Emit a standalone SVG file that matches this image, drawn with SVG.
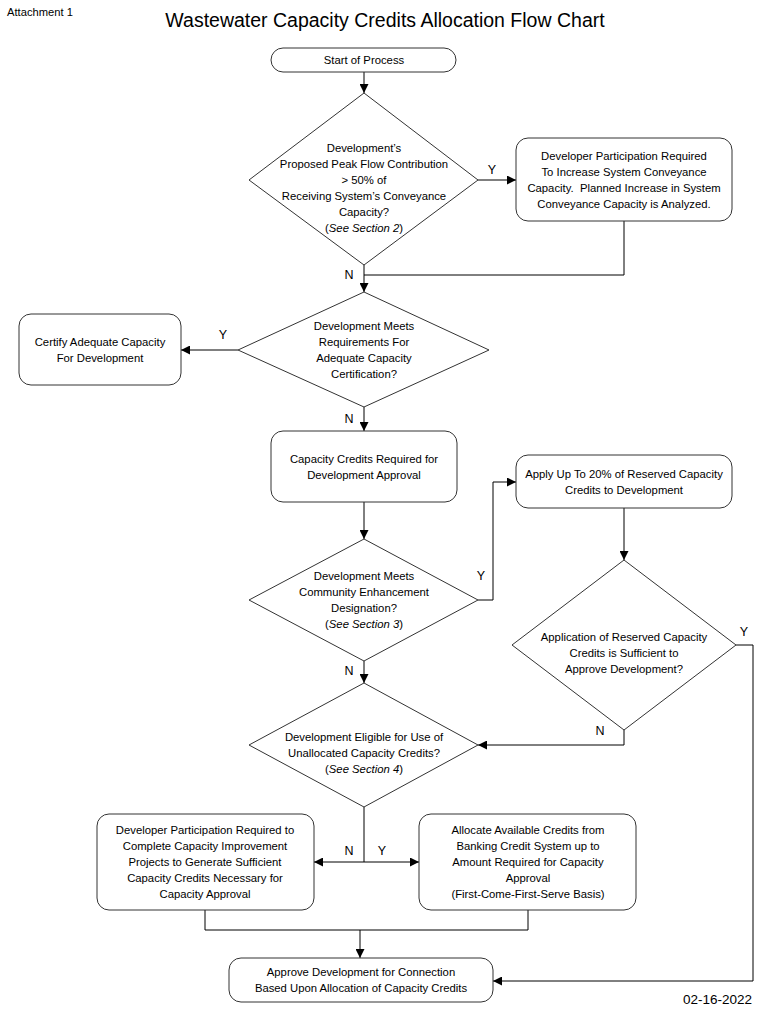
<svg xmlns="http://www.w3.org/2000/svg" width="760" height="1018" viewBox="0 0 760 1018">
<defs>
<style>
.n{fill:#fff;stroke:#333;stroke-width:1}
.t{font-family:"Liberation Sans",Arial,sans-serif;font-size:11.3px;fill:#000;text-anchor:middle}
.l{font-family:"Liberation Sans",Arial,sans-serif;font-size:12.5px;fill:#000;text-anchor:middle}
.c{fill:none;stroke:#000;stroke-width:1}
</style>
<marker id="a" viewBox="0 0 10 10" refX="10" refY="5" markerWidth="9" markerHeight="9" markerUnits="userSpaceOnUse" orient="auto"><path d="M0,0L10,5L0,10z" fill="#000"/></marker>
</defs>
<rect width="760" height="1018" fill="#fff"/>
<text x="7" y="16" style="font-family:'Liberation Sans',Arial,sans-serif;font-size:11.2px">Attachment 1</text>
<text x="385" y="27" style="font-family:'Liberation Sans',Arial,sans-serif;font-size:19.5px;text-anchor:middle">Wastewater Capacity Credits Allocation Flow Chart</text>
<text x="752" y="1004" style="font-family:'Liberation Sans',Arial,sans-serif;font-size:13.5px;text-anchor:end">02-16-2022</text>

<g id="connectors">
<path class="c" d="M364,72V93" marker-end="url(#a)"/>
<path class="c" d="M478,180H516" marker-end="url(#a)"/>
<path class="c" d="M624,221V275H364"/>
<path class="c" d="M364,265V292" marker-end="url(#a)"/>
<path class="c" d="M238,350H181" marker-end="url(#a)"/>
<path class="c" d="M364,407V431" marker-end="url(#a)"/>
<path class="c" d="M364,502V539" marker-end="url(#a)"/>
<path class="c" d="M478,600H493V482H516" marker-end="url(#a)"/>
<path class="c" d="M624,508V560" marker-end="url(#a)"/>
<path class="c" d="M736,645H753V981H493" marker-end="url(#a)"/>
<path class="c" d="M624,730V745H478" marker-end="url(#a)"/>
<path class="c" d="M364,661V683" marker-end="url(#a)"/>
<path class="c" d="M364,807V862"/>
<path class="c" d="M364,862H314" marker-end="url(#a)"/>
<path class="c" d="M364,862H419" marker-end="url(#a)"/>
<path class="c" d="M205,910V930H528V910"/>
<path class="c" d="M360,930V958" marker-end="url(#a)"/>
<text class="l" x="492" y="174">Y</text>
<text class="l" x="349" y="279">N</text>
<text class="l" x="223" y="339">Y</text>
<text class="l" x="349" y="423">N</text>
<text class="l" x="481" y="580">Y</text>
<text class="l" x="744" y="636">Y</text>
<text class="l" x="349" y="675">N</text>
<text class="l" x="600" y="735">N</text>
<text class="l" x="349" y="855">N</text>
<text class="l" x="382" y="855">Y</text>
</g>

<g id="start">
<rect class="n" x="271" y="48" width="185" height="24" rx="12"/>
<text class="t" x="364" y="64">Start of Process</text>
</g>

<g id="d1">
<path class="n" d="M364,93L478,180L364,265L249,180z"/>
<text class="t" x="364" y="152">Development’s</text>
<text class="t" x="364" y="168">Proposed Peak Flow Contribution</text>
<text class="t" x="364" y="184">&gt; 50% of</text>
<text class="t" x="364" y="200">Receiving System’s Conveyance</text>
<text class="t" x="364" y="216">Capacity?</text>
<text class="t" x="364" y="232">(<tspan font-style="italic">See Section 2</tspan>)</text>
</g>

<g id="b2">
<rect class="n" x="516" y="138" width="216" height="83" rx="12"/>
<text class="t" x="624" y="160">Developer Participation Required</text>
<text class="t" x="624" y="176">To Increase System Conveyance</text>
<text class="t" x="624" y="192">Capacity.&#160; Planned Increase in System</text>
<text class="t" x="624" y="208">Conveyance Capacity is Analyzed.</text>
</g>

<g id="d2">
<path class="n" d="M364,292L489,350L364,407L238,350z"/>
<text class="t" x="364" y="330">Development Meets</text>
<text class="t" x="364" y="346">Requirements For</text>
<text class="t" x="364" y="362">Adequate Capacity</text>
<text class="t" x="364" y="378">Certification?</text>
</g>

<g id="b3">
<rect class="n" x="19" y="314" width="162" height="71" rx="12"/>
<text class="t" x="100" y="346">Certify Adequate Capacity</text>
<text class="t" x="100" y="362">For Development</text>
</g>

<g id="b4">
<rect class="n" x="271" y="431" width="186" height="71" rx="12"/>
<text class="t" x="364" y="463">Capacity Credits Required for</text>
<text class="t" x="364" y="479">Development Approval</text>
</g>

<g id="d3">
<path class="n" d="M364,539L478,600L364,661L249,600z"/>
<text class="t" x="364" y="580">Development Meets</text>
<text class="t" x="364" y="596">Community Enhancement</text>
<text class="t" x="364" y="612">Designation?</text>
<text class="t" x="364" y="628">(<tspan font-style="italic">See Section 3</tspan>)</text>
</g>

<g id="b5">
<rect class="n" x="516" y="455" width="216" height="53" rx="12"/>
<text class="t" x="624" y="478">Apply Up To 20% of Reserved Capacity</text>
<text class="t" x="624" y="494">Credits to Development</text>
</g>

<g id="d4">
<path class="n" d="M624,560L736,645L624,730L512,645z"/>
<text class="t" x="624" y="641">Application of Reserved Capacity</text>
<text class="t" x="624" y="657">Credits is Sufficient to</text>
<text class="t" x="624" y="673">Approve Development?</text>
</g>

<g id="d5">
<path class="n" d="M364,683L478,745L364,807L249,745z"/>
<text class="t" x="364" y="741">Development Eligible for Use of</text>
<text class="t" x="364" y="757">Unallocated Capacity Credits?</text>
<text class="t" x="364" y="773">(<tspan font-style="italic">See Section 4</tspan>)</text>
</g>

<g id="b6">
<rect class="n" x="97" y="814" width="217" height="96" rx="12"/>
<text class="t" x="205" y="834">Developer Participation Required to</text>
<text class="t" x="205" y="850">Complete Capacity Improvement</text>
<text class="t" x="205" y="866">Projects to Generate Sufficient</text>
<text class="t" x="205" y="882">Capacity Credits Necessary for</text>
<text class="t" x="205" y="898">Capacity Approval</text>
</g>

<g id="b7">
<rect class="n" x="419" y="814" width="217" height="96" rx="12"/>
<text class="t" x="528" y="834">Allocate Available Credits from</text>
<text class="t" x="528" y="850">Banking Credit System up to</text>
<text class="t" x="528" y="866">Amount Required for Capacity</text>
<text class="t" x="528" y="882">Approval</text>
<text class="t" x="528" y="898">(First-Come-First-Serve Basis)</text>
</g>

<g id="b8">
<rect class="n" x="229" y="958" width="264" height="44" rx="12"/>
<text class="t" x="361" y="976">Approve Development for Connection</text>
<text class="t" x="361" y="992">Based Upon Allocation of Capacity Credits</text>
</g>
</svg>
